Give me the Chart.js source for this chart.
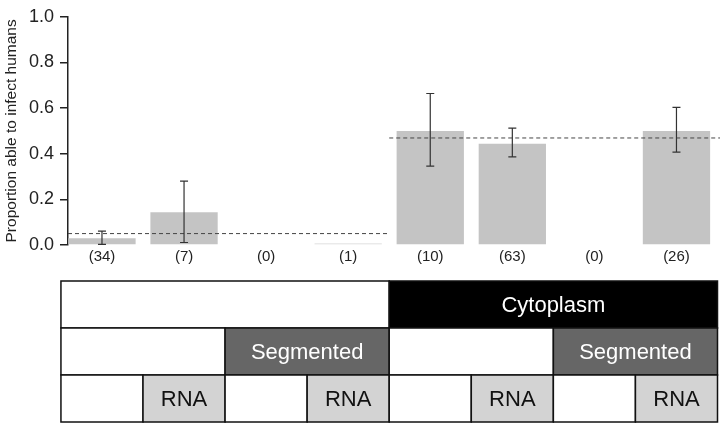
<!DOCTYPE html>
<html lang="en">
<head>
<meta charset="UTF-8">
<title>Proportion able to infect humans</title>
<script src="https://cdn.jsdelivr.net/npm/chart.js"></script>
<style>
  body { margin: 0; background: #fff; }
  #wrap { width: 720px; height: 425px; }
</style>
</head>
<body>
<div id="wrap"><canvas id="chart"></canvas></div>
<script>
// sample sizes shown under each bar
const counts = [34, 7, 0, 1, 10, 63, 0, 26];
// proportion able to infect humans (null = no viruses in group)
const proportions = [0.03, 0.143, null, 0, 0.5, 0.444, null, 0.5];
const errLow = [0.003, 0.011, null, null, 0.346, 0.386, null, 0.407];
const errHigh = [0.061, 0.28, null, null, 0.664, 0.512, null, 0.603];
// group means (dashed lines)
const meanLeft = 0.05;
const meanRight = 0.469;
const yTicks = [0, 0.2, 0.4, 0.6, 0.8, 1.0];

// classification table under the chart
const row1 = ['', 'Cytoplasm'];
const row2 = ['', 'Segmented', '', 'Segmented'];
const row3 = ['', 'RNA', '', 'RNA', '', 'RNA', '', 'RNA'];

const barColors = proportions.map(v => v === 0 ? '#d6d6d6' : '#c4c4c4');

const errorBars = {
    id: 'errorBars',
    afterDatasetsDraw(chart) {
        const x = chart.scales.x, y = chart.scales.y, ctx = chart.ctx;
        ctx.save();
        ctx.strokeStyle = '#333';
        ctx.lineWidth = 1.2;
        errLow.forEach((lo, i) => {
            if (lo === null) return;
            const px = x.getPixelForValue(i);
            const y1 = y.getPixelForValue(lo), y2 = y.getPixelForValue(errHigh[i]);
            ctx.beginPath();
            ctx.moveTo(px, y1); ctx.lineTo(px, y2);
            ctx.moveTo(px - 4, y1); ctx.lineTo(px + 4, y1);
            ctx.moveTo(px - 4, y2); ctx.lineTo(px + 4, y2);
            ctx.stroke();
        });
        ctx.restore();
    }
};

const table = {
    id: 'table',
    afterDraw(chart) {
        const x = chart.scales.x, ctx = chart.ctx;
        const top = chart.chartArea.bottom + 36;
        const rowH = 47;
        const rows = [
            { cells: row1, fill: ['#fff', '#000'], text: ['#000', '#fff'] },
            { cells: row2, fill: ['#fff', '#666'], text: ['#000', '#fff'] },
            { cells: row3, fill: ['#fff', '#d3d3d3'], text: ['#000', '#111'] }
        ];
        ctx.save();
        ctx.font = '22px "Liberation Sans", Arial, sans-serif';
        ctx.textAlign = 'center';
        ctx.textBaseline = 'middle';
        rows.forEach((row, r) => {
            const span = counts.length / row.cells.length;
            const ry = top + r * rowH;
            row.cells.forEach((label, c) => {
                const x0 = x.getPixelForValue(c * span - 0.5);
                const x1 = x.getPixelForValue((c + 1) * span - 0.5);
                ctx.fillStyle = row.fill[c % 2];
                ctx.fillRect(x0, ry, x1 - x0, rowH);
                ctx.strokeStyle = '#111';
                ctx.lineWidth = 1.5;
                ctx.strokeRect(x0, ry, x1 - x0, rowH);
                if (label) {
                    ctx.fillStyle = row.text[c % 2];
                    ctx.fillText(label, (x0 + x1) / 2, ry + rowH / 2 + 1);
                }
            });
        });
        ctx.restore();
    }
};

Chart.defaults.font.family = '"Liberation Sans", Arial, sans-serif';
Chart.defaults.color = '#222';

new Chart(document.getElementById('chart'), {
    type: 'bar',
    data: {
        datasets: [
            {
                type: 'bar',
                data: proportions.map((v, i) => ({ x: i, y: v })),
                backgroundColor: barColors,
                borderWidth: 0,
                barPercentage: 0.82,
                categoryPercentage: 1,
                minBarLength: 1.5,
                order: 2
            },
            {
                type: 'line',
                data: [{ x: -0.414, y: meanLeft }, { x: 3.5, y: meanLeft }],
                borderColor: '#444',
                borderWidth: 1,
                borderDash: [4, 3],
                pointRadius: 0,
                clip: false,
                order: 1
            },
            {
                type: 'line',
                data: [{ x: 3.5, y: meanRight }, { x: 7.55, y: meanRight }],
                borderColor: '#444',
                borderWidth: 1,
                borderDash: [4, 3],
                pointRadius: 0,
                clip: false,
                order: 1
            }
        ]
    },
    options: {
        responsive: true,
        maintainAspectRatio: false,
        animation: false,
        layout: { padding: { top: 10, right: 2.5, bottom: 0, left: 0 } },
        plugins: { legend: { display: false }, tooltip: { enabled: false } },
        scales: {
            x: {
                type: 'linear',
                offset: false,
                min: -0.414,
                max: 7.5,
                grid: { display: false },
                border: { display: false },
                afterBuildTicks: s => { s.ticks = counts.map((_, i) => ({ value: i })); },
                afterFit: s => { s.height = 180; },
                ticks: {
                    autoSkip: false,
                    maxRotation: 0,
                    padding: -5,
                    font: { size: 15 },
                    color: '#222',
                    callback: v => '(' + counts[v] + ')'
                }
            },
            y: {
                min: 0,
                max: 1,
                afterBuildTicks: s => { s.ticks = yTicks.map(v => ({ value: v })); },
                afterFit: s => { s.width = 68; },
                grid: { drawOnChartArea: false, drawTicks: true, tickLength: 8, color: '#222', lineWidth: 1.5 },
                border: { display: true, color: '#222', width: 1.5 },
                ticks: {
                    padding: 6,
                    font: { size: 18 },
                    color: '#222',
                    callback: v => v.toFixed(1)
                },
                title: {
                    display: true,
                    text: 'Proportion able to infect humans',
                    font: { size: 15.5 },
                    color: '#222',
                    padding: 2
                }
            }
        }
    },
    plugins: [errorBars, table]
});
</script>
</body>
</html>
